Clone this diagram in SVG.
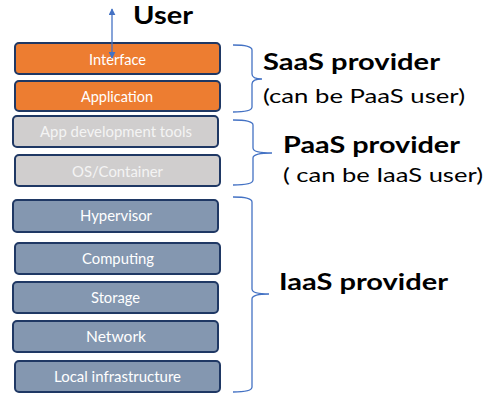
<svg xmlns="http://www.w3.org/2000/svg" width="488" height="402" viewBox="0 0 488 402">
<defs>
<marker id="ah" viewBox="0 0 10 10" refX="9" refY="5" markerWidth="7" markerHeight="7" orient="auto-start-reverse" markerUnits="userSpaceOnUse">
<path d="M0,0 L10,5 L0,10 z" fill="#4472C4"/>
</marker>
<style>
.box rect{stroke:#1F3864;stroke-width:2;}
.orange rect{fill:#ED7D31;}
.gray rect{fill:#D0CECE;}
.blue rect{fill:#8497B0;}
.lbl{font-family:Lato,"Liberation Sans",sans-serif;font-size:15px;fill:#FFFFFF;text-anchor:middle;}
.gray .lbl{fill:#F4F4F4;}
.brace{fill:none;stroke:#4472C4;stroke-width:1.3;}
.big{font-family:Lato,"Liberation Sans",sans-serif;font-weight:bold;font-size:23px;fill:#000;}
.sub{font-family:Lato,"Liberation Sans",sans-serif;font-size:20px;fill:#000;}
</style>
</defs>
<rect width="488" height="402" fill="#FFFFFF"/>
<g id="interface" class="box orange"><rect x="15" y="43" width="205" height="31" rx="4"/><text class="lbl" x="117.5" y="65" textLength="57" lengthAdjust="spacingAndGlyphs">Interface</text></g>
<g id="application" class="box orange"><rect x="15" y="81" width="205" height="30" rx="4"/><text class="lbl" x="117" y="102" textLength="72" lengthAdjust="spacingAndGlyphs">Application</text></g>
<g id="appdev" class="box gray"><rect x="13" y="116" width="205" height="31" rx="4"/><text class="lbl" x="116" y="137" textLength="152" lengthAdjust="spacingAndGlyphs">App development tools</text></g>
<g id="os" class="box gray"><rect x="15" y="155" width="205" height="31" rx="4"/><text class="lbl" x="117.5" y="177" textLength="91" lengthAdjust="spacingAndGlyphs">OS/Container</text></g>
<g id="hypervisor" class="box blue"><rect x="13" y="200" width="205" height="32" rx="4"/><text class="lbl" x="116" y="221" textLength="72" lengthAdjust="spacingAndGlyphs">Hypervisor</text></g>
<g id="computing" class="box blue"><rect x="15" y="243" width="205" height="31" rx="4"/><text class="lbl" x="118" y="264" textLength="72" lengthAdjust="spacingAndGlyphs">Computing</text></g>
<g id="storage" class="box blue"><rect x="13" y="282" width="205" height="31" rx="4"/><text class="lbl" x="115.5" y="303" textLength="49" lengthAdjust="spacingAndGlyphs">Storage</text></g>
<g id="network" class="box blue"><rect x="13" y="321" width="205" height="31" rx="4"/><text class="lbl" x="116" y="342" textLength="60" lengthAdjust="spacingAndGlyphs">Network</text></g>
<g id="localinfra" class="box blue"><rect x="15" y="361" width="205" height="31" rx="4"/><text class="lbl" x="117.5" y="382" textLength="127" lengthAdjust="spacingAndGlyphs">Local infrastructure</text></g>
<g id="connectors">
<line x1="112" y1="9" x2="112" y2="58" stroke="#4472C4" stroke-width="1.3" marker-start="url(#ah)" marker-end="url(#ah)"/>
<path class="brace" d="M233,45 Q252,45 252,50 L252,74 Q252,79 262,79 Q252,79 252,84 L252,107 Q252,112 233,112"/>
<path class="brace" d="M233,120 Q253,120 253,125 L253,148 Q253,153 272,153 Q253,153 253,158 L253,180 Q253,185 233,185"/>
<path class="brace" d="M233,197 Q252,197 252,202 L252,289 Q252,294 269,294 Q252,294 252,299 L252,387 Q252,392 233,392"/>
</g>
<g id="user"><text class="big" x="133" y="24" style="font-size:24px" textLength="60" lengthAdjust="spacingAndGlyphs">User</text></g>
<g id="saas"><text class="big" x="263" y="70" textLength="177" lengthAdjust="spacingAndGlyphs">SaaS provider</text><text class="sub" x="263" y="103" textLength="202" lengthAdjust="spacingAndGlyphs">(can be PaaS user)</text></g>
<g id="paas"><text class="big" x="283" y="153" textLength="177" lengthAdjust="spacingAndGlyphs">PaaS provider</text><text class="sub" x="283" y="182" textLength="200" lengthAdjust="spacingAndGlyphs">( can be IaaS user)</text></g>
<g id="iaas"><text class="big" x="279" y="290" textLength="169" lengthAdjust="spacingAndGlyphs">IaaS provider</text></g>
</svg>
